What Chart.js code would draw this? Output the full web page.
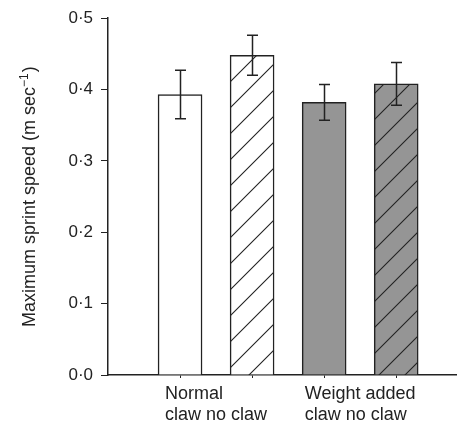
<!DOCTYPE html>
<html><head><meta charset="utf-8">
<script src="https://cdn.jsdelivr.net/npm/chart.js@4"></script>
<style>html,body{margin:0;padding:0;background:#fff}</style>
</head><body><canvas id="c" width="468" height="429"></canvas>
<script>
const categories = ['Normal claw', 'Normal no claw', 'Weight added claw', 'Weight added no claw'];
const groupLabels = ['Normal', 'Weight added'];
const subLabel = 'claw no claw';
const positions = [1, 2, 3, 4];
const means = [0.393, 0.448, 0.382, 0.408];
const errors = [0.034, 0.028, 0.025, 0.030];
const yTicks = [0.0, 0.1, 0.2, 0.3, 0.4, 0.5];
const yTitle = 'Maximum sprint speed (m sec';
const yTitleSup = '\u22121';

const INK = '#222';
const GREY = '#959595';
const FONT = '"Liberation Sans", Arial, sans-serif';

function hatch(bg) {
  const s = 26;
  const cv = document.createElement('canvas');
  cv.width = s; cv.height = s;
  const g = cv.getContext('2d');
  g.fillStyle = bg; g.fillRect(0, 0, s, s);
  g.strokeStyle = INK; g.lineWidth = 1.1;
  g.beginPath();
  g.moveTo(-2, s + 2); g.lineTo(s + 2, -2);
  g.moveTo(-2, 2); g.lineTo(2, -2);
  g.moveTo(s - 2, s + 2); g.lineTo(s + 2, s - 2);
  g.stroke();
  return g.createPattern(cv, 'repeat');
}

const ctx = document.getElementById('c').getContext('2d');
const fills = ['#ffffff', hatch('#ffffff'), GREY, hatch(GREY)];

const errorBars = {
  id: 'errorBars',
  afterDatasetsDraw(chart) {
    const { ctx, scales: { x, y } } = chart;
    ctx.save();
    ctx.strokeStyle = INK; ctx.lineWidth = 1.5;
    positions.forEach((p, i) => {
      const px = Math.round(x.getPixelForValue(p)) + 0.5;
      const t = y.getPixelForValue(means[i] + errors[i]);
      const b = y.getPixelForValue(means[i] - errors[i]);
      ctx.beginPath();
      ctx.moveTo(px, t); ctx.lineTo(px, b);
      ctx.moveTo(px - 5.5, t); ctx.lineTo(px + 5.5, t);
      ctx.moveTo(px - 5.5, b); ctx.lineTo(px + 5.5, b);
      ctx.stroke();
    });
    ctx.restore();
  }
};

const labels = {
  id: 'labels',
  afterDraw(chart) {
    const { ctx, scales: { x }, chartArea } = chart;
    ctx.save();
    ctx.fillStyle = INK;
    ctx.font = '18px ' + FONT;
    ctx.textAlign = 'left';
    ctx.textBaseline = 'alphabetic';
    groupLabels.forEach((gl, g) => {
      const c = (x.getPixelForValue(positions[2 * g]) + x.getPixelForValue(positions[2 * g + 1])) / 2;
      const w = Math.max(ctx.measureText(gl).width, ctx.measureText(subLabel).width);
      const left = c - w / 2;
      ctx.fillText(gl, left, 399);
      ctx.fillText(subLabel, left, 420);
    });
    // y-axis title with superscript
    const main = '18px ' + FONT, sup = '12px ' + FONT;
    ctx.font = main; const w1 = ctx.measureText(yTitle).width;
    ctx.font = sup; const w2 = ctx.measureText(yTitleSup).width;
    ctx.font = main; const w3 = ctx.measureText(')').width;
    const total = w1 + w2 + w3 + 1;
    ctx.translate(35, (chartArea.top + chartArea.bottom) / 2);
    ctx.rotate(-Math.PI / 2);
    let xx = -total / 2;
    ctx.font = main; ctx.fillText(yTitle, xx, 0); xx += w1;
    ctx.font = sup; ctx.fillText(yTitleSup, xx, -7); xx += w2 + 1;
    ctx.font = main; ctx.fillText(')', xx, 0);
    ctx.restore();
  }
};

new Chart(ctx, {
  type: 'bar',
  data: {
    labels: categories,
    datasets: [{
      data: positions.map((p, i) => ({ x: p, y: means[i] })),
      backgroundColor: fills,
      borderColor: INK,
      borderWidth: 1.5,
      borderSkipped: 'start',
      barThickness: 44
    }]
  },
  options: {
    responsive: false,
    animation: false,
    layout: { padding: { top: 15, right: 12, left: 0, bottom: 0 } },
    plugins: { legend: { display: false }, tooltip: { enabled: false } },
    scales: {
      x: {
        type: 'linear', min: 0, max: 4.83, offset: false,
        afterBuildTicks: s => { s.ticks = positions.map(v => ({ value: v })); },
        ticks: { display: false },
        grid: { display: true, drawOnChartArea: false, drawTicks: true, tickLength: 3, color: INK, offset: false },
        border: { display: true, color: INK, width: 1.5 },
        afterFit: s => { s.height = 54; }
      },
      y: {
        min: 0, max: 0.5,
        afterBuildTicks: s => { s.ticks = yTicks.map(v => ({ value: v })); },
        ticks: {
          callback: v => Number(v).toFixed(1).replace('.', '\u00b7'),
          font: { family: FONT, size: 17 }, color: INK, padding: 8
        },
        grid: { drawOnChartArea: false, drawTicks: true, tickLength: 7, color: INK },
        border: { display: true, color: INK, width: 1.5 },
        afterFit: s => { s.width = 108; }
      }
    }
  },
  plugins: [errorBars, labels]
});
</script>
</body></html>
